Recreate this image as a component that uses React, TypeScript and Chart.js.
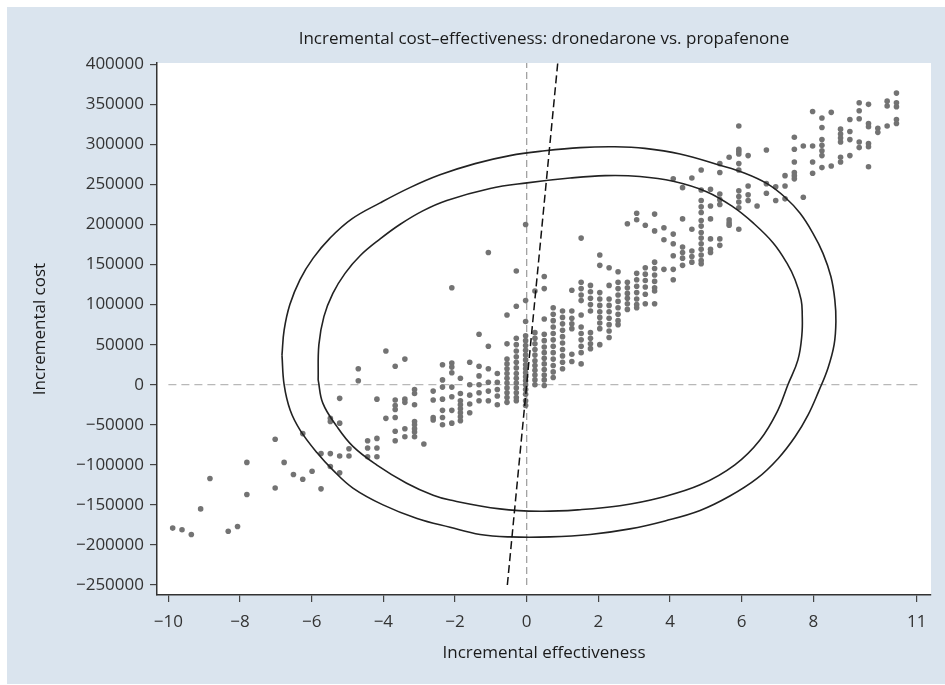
import React, { useEffect, useRef } from "react";
import { Chart, registerables } from "chart.js";

Chart.register(...registerables);

// ---- Data ----
const chartTitle = "Incremental cost\u2013effectiveness: dronedarone vs. propafenone";
const xAxisTitle = "Incremental effectiveness";
const yAxisTitle = "Incremental cost";

const xTickValues = [-10, -8, -6, -4, -2, 0, 2, 4, 6, 8, 10.886];
const xTickLabels = ["\u221210", "\u22128", "\u22126", "\u22124", "\u22122", "0", "2", "4", "6", "8", "11"];
const yTickValues = [-250000, -200000, -150000, -100000, -50000, 0, 50000, 100000, 150000, 200000, 250000, 300000, 350000, 400000];

// Bootstrap replicates: effectiveness columns and the costs (thousands) read in each column
const effColumns = [-9.88, -9.62, -9.36, -9.1, -8.84, -8.33, -8.07, -7.81, -7.02, -6.77, -6.51, -6.25, -5.99, -5.74, -5.48, -5.22, -4.96, -4.7, -4.44, -4.18, -3.93, -3.67, -3.4, -3.13, -2.87, -2.61, -2.35, -2.09, -1.85, -1.59, -1.33, -1.07, -0.82, -0.55, -0.29, -0.03, 0.23, 0.49, 0.74, 1.0, 1.26, 1.52, 1.78, 2.04, 2.3, 2.55, 2.81, 3.07, 3.31, 3.57, 3.83, 4.09, 4.35, 4.61, 4.87, 5.13, 5.39, 5.65, 5.92, 6.18, 6.43, 6.69, 6.95, 7.21, 7.47, 7.72, 7.98, 8.24, 8.5, 8.76, 9.02, 9.28, 9.54, 9.8, 10.06, 10.32];
const costThousandsByColumn = [
  [-179], [-181], [-187], [-155], [-117], [-183], [-177], [-97, -137], [-68, -129], [-97], [-112],
  [-61, -118], [-108], [-86, -130], [-42, -46, -86, -102], [-17, -48, -89, -110], [-80, -89], [20, 5],
  [-70, -79, -90], [-18, -67, -79, -90], [42, -42], [23, -19, -26, -31, -41, -58, -70],
  [32, -18, -22, -55, -65], [-6, -11, -25, -46, -50, -55, -59, -65], [-74], [-8, -19, -41, -44],
  [25, 6, -3, -18, -32, -41, -50], [121, 27, 22, 15, -3, -15, -32, -48],
  [8, -11, -20, -25, -30, -35, -40, -45], [28, 0, -13, -24, -35], [63, 23, 11, 0, -10, -20],
  [165, 48, 20, 3, -8, -20], [14, 3, -6, -14, -25],
  [87, 51, 32, 26, 20, 14, 8, 2, -4, -10, -16, -22],
  [142, 98, 58, 50, 42, 35, 28, 21, 14, 8, 2, -4, -10, -16, -20],
  [200, 105, 79, 61, 55, 49, 43, 37, 31, 25, 20, 15, 10, 5, 0, -6, -12, -20, -26],
  [117, 65, 58, 51, 44, 37, 30, 24, 18, 12, 6, 0],
  [135, 120, 82, 63, 55, 47, 40, 33, 26, 19, 12, 6, -1],
  [96, 88, 80, 72, 64, 56, 48, 40, 32, 24, 16, 9],
  [92, 84, 76, 68, 60, 52, 44, 36, 28, 20],
  [118, 92, 83, 76, 70, 38, 29],
  [183, 128, 120, 112, 105, 87, 72, 64, 56, 48, 40, 26],
  [124, 116, 108, 100, 92, 65, 58, 51, 45],
  [162, 149, 115, 107, 99, 91, 84, 77, 70, 50],
  [146, 124, 107, 99, 91, 83, 75, 67, 59],
  [141, 128, 120, 112, 104, 96, 88, 80, 75],
  [201, 128, 121, 114, 108, 101, 94],
  [214, 206, 139, 131, 123, 115, 107, 100, 96],
  [199, 146, 138, 130, 122, 113, 101],
  [213, 192, 153, 145, 137, 129, 121, 117, 101],
  [196, 181, 144],
  [257, 188, 176, 161, 144, 131],
  [246, 207, 172, 165, 158, 149],
  [258, 194, 167, 160, 153],
  [268, 243, 230, 222, 215, 205, 198, 190, 183, 176, 169, 162, 155, 151],
  [244, 223, 207, 182, 169, 165],
  [276, 265, 238, 231, 225, 182, 174],
  [284, 206, 202, 199],
  [323, 294, 291, 288, 276, 268, 242, 235, 228, 221, 194],
  [286, 248, 237, 230],
  [223],
  [293, 251, 239],
  [247, 230],
  [261, 248, 232],
  [309, 294, 278, 265, 261, 257],
  [298, 234],
  [341, 298, 278, 264],
  [333, 321, 306, 299, 292, 286, 271],
  [340, 273],
  [319, 313, 308, 303, 284, 278],
  [331, 316, 306, 286],
  [352, 342, 332, 303, 296],
  [350, 326, 322, 301, 297, 272],
  [320, 315],
  [354, 348, 323],
  [364, 352, 347, 331, 326],
];

// Confidence ellipse outlines (effectiveness, cost in thousands)
const outerEllipseX = [-6.83, -6.77, -6.61, -6.33, -5.96, -5.49, -4.88, -4.09, -3.26, -2.42, -1.44, -0.47, 0.51, 1.49, 2.46, 3.3, 4.28, 5.39, 6.09, 6.71, 7.21, 7.63, 7.99, 8.27, 8.49, 8.6, 8.63, 8.58, 8.41, 8.16, 7.85, 7.49, 7.02, 6.43, 5.67, 4.84, 3.86, 2.88, 1.77, 0.65, -0.47, -1.3, -2.14, -3.06, -4.01, -4.85, -5.4, -5.85, -6.32, -6.6, -6.77, -6.83];
const outerEllipseY = [37, 68, 100, 131, 158, 183, 207, 227, 246, 262, 276, 286, 292, 296, 297, 295, 288, 274, 264, 251, 234, 214, 189, 164, 135, 106, 79, 50, 21, -7, -38, -65, -92, -117, -139, -157, -170, -180, -187, -190, -190, -187, -178, -167, -150, -129, -107, -85, -57, -32, 0, 37];
const innerEllipseX = [-5.82, -5.8, -5.66, -5.41, -5.07, -4.65, -4.09, -3.54, -2.9, -2.23, -1.02, 0.01, 1.21, 2.19, 3.16, 4.09, 5.02, 5.76, 6.32, 6.88, 7.26, 7.49, 7.66, 7.69, 7.68, 7.57, 7.29, 7.01, 6.51, 5.81, 4.84, 3.72, 2.6, 1.49, 0.37, -0.75, -2.14, -2.61, -3.35, -4.19, -4.85, -5.3, -5.69, -5.82];
const innerEllipseY = [6, 50, 85, 114, 139, 161, 182, 200, 217, 230, 245, 252, 258, 261, 260, 254, 241, 222, 202, 177, 152, 131, 106, 88, 62, 31, 0, -32, -69, -100, -125, -141, -151, -156, -158, -155, -144, -138, -123, -100, -77, -52, -23, 6];

// Threshold (ICER) line end points, and the reference axes
const icerLineX = [-0.54, 0.865];
const icerLineY = [-250000, 401000];
const vRefX = [0, 0];
const vRefY = [-250000, 401600];
const hRefX = [-10, 11];
const hRefY = [0, 0];

const FONT = "'Open Sans', 'DejaVu Sans', sans-serif";

function fmtY(v: number): string {
  if (v < 0) return "\u2212" + String(Math.abs(v));
  return String(v);
}

export default function App() {
  const ref = useRef<HTMLCanvasElement | null>(null);

  useEffect(() => {
    const canvas = ref.current;
    if (!canvas) return;

    const points: { x: number; y: number }[] = [];
    effColumns.forEach((x, i) => {
      costThousandsByColumn[i].forEach((c) => points.push({ x, y: c * 1000 }));
    });
    const toPts = (xs: number[], ys: number[], mult: number) => xs.map((x, i) => ({ x, y: ys[i] * mult }));

    const bgPlugin = {
      id: "bgPlugin",
      beforeDraw(chart: any) {
        const { ctx, chartArea } = chart;
        ctx.save();
        ctx.fillStyle = "#ffffff";
        ctx.fillRect(0, 0, chart.width, chart.height);
        ctx.fillStyle = "#dae4ee";
        ctx.fillRect(7, 7, chart.width - 7, chart.height - 8);
        ctx.fillStyle = "#ffffff";
        ctx.fillRect(chartArea.left, chartArea.top, chartArea.right - chartArea.left, chartArea.bottom - chartArea.top);
        ctx.restore();
      },
    };

    const tickFont = { family: FONT, size: 17 };

    const chart = new Chart(canvas, {
      type: "scatter",
      data: {
        datasets: [
          {
            type: "line",
            data: toPts(icerLineX, icerLineY, 1),
            borderColor: "#111111",
            borderWidth: 1.5,
            borderDash: [8, 4],
            pointRadius: 0,
            fill: false,
            tension: 0,
          } as any,
          {
            type: "line",
            data: toPts(outerEllipseX, outerEllipseY, 1000),
            borderColor: "#222222",
            borderWidth: 1.6,
            pointRadius: 0,
            fill: false,
            tension: 0.4,
          } as any,
          {
            type: "line",
            data: toPts(innerEllipseX, innerEllipseY, 1000),
            borderColor: "#222222",
            borderWidth: 1.6,
            pointRadius: 0,
            fill: false,
            tension: 0.4,
          } as any,
          {
            type: "scatter",
            data: points,
            pointRadius: 2.8,
            pointBackgroundColor: "#737373",
            pointBorderWidth: 0,
            backgroundColor: "#737373",
            borderColor: "#737373",
          } as any,
          {
            type: "line",
            data: toPts(vRefX, vRefY, 1),
            borderColor: "#9a9a9a",
            borderWidth: 1.2,
            borderDash: [7, 4],
            pointRadius: 0,
            fill: false,
          } as any,
          {
            type: "line",
            data: toPts(hRefX, hRefY, 1),
            borderColor: "#b8b8b8",
            borderWidth: 1.2,
            borderDash: [8, 5],
            pointRadius: 0,
            fill: false,
          } as any,
        ],
      },
      options: {
        responsive: false,
        devicePixelRatio: 1,
        animation: false,
        layout: { padding: { left: 0, right: 14, top: 8, bottom: 0 } },
        plugins: {
          legend: { display: false },
          tooltip: { enabled: false },
          title: {
            display: true,
            text: chartTitle,
            fullSize: false,
            color: "#1a1a1a",
            font: { family: FONT, size: 17, weight: "normal" as any },
            padding: { top: 21, bottom: 13.6 },
          },
        },
        scales: {
          x: {
            type: "linear",
            min: -10.318,
            max: 11.284,
            afterBuildTicks: (scale: any) => {
              scale.ticks = xTickValues.map((v) => ({ value: v }));
            },
            afterFit: (scale: any) => {
              scale.height = 90;
            },
            ticks: {
              callback: (_v: any, i: number) => xTickLabels[i],
              font: tickFont,
              color: "#333333",
              padding: 10,
              autoSkip: false,
              maxRotation: 0,
            },
            grid: { display: true, drawOnChartArea: false, drawTicks: true, tickLength: 7, color: "#444444", lineWidth: 1.2 },
            border: { display: true, color: "#333333", width: 1.5 },
            title: {
              display: true,
              text: xAxisTitle,
              color: "#1a1a1a",
              font: { family: FONT, size: 17 },
              padding: { top: 0, bottom: 22 },
            },
          },
          y: {
            type: "linear",
            min: -262500,
            max: 401600,
            afterBuildTicks: (scale: any) => {
              scale.ticks = yTickValues.map((v) => ({ value: v }));
            },
            afterFit: (scale: any) => {
              scale.width = 157;
            },
            ticks: {
              callback: (v: any) => fmtY(Number(v)),
              font: tickFont,
              color: "#333333",
              padding: 6,
              autoSkip: false,
            },
            grid: { display: true, drawOnChartArea: false, drawTicks: true, tickLength: 7, color: "#444444", lineWidth: 1.2 },
            border: { display: true, color: "#333333", width: 1.5 },
            title: {
              display: true,
              text: yAxisTitle,
              color: "#1a1a1a",
              font: { family: FONT, size: 17 },
              padding: { top: 30, bottom: 0 },
            },
          },
        },
      },
      plugins: [bgPlugin],
    });

    return () => chart.destroy();
  }, []);

  return (
    <div style={{ position: "absolute", left: 0, top: 0, width: 945, height: 685 }}>
      <canvas ref={ref} width={945} height={685} style={{ display: "block", width: 945, height: 685 }} />
    </div>
  );
}
